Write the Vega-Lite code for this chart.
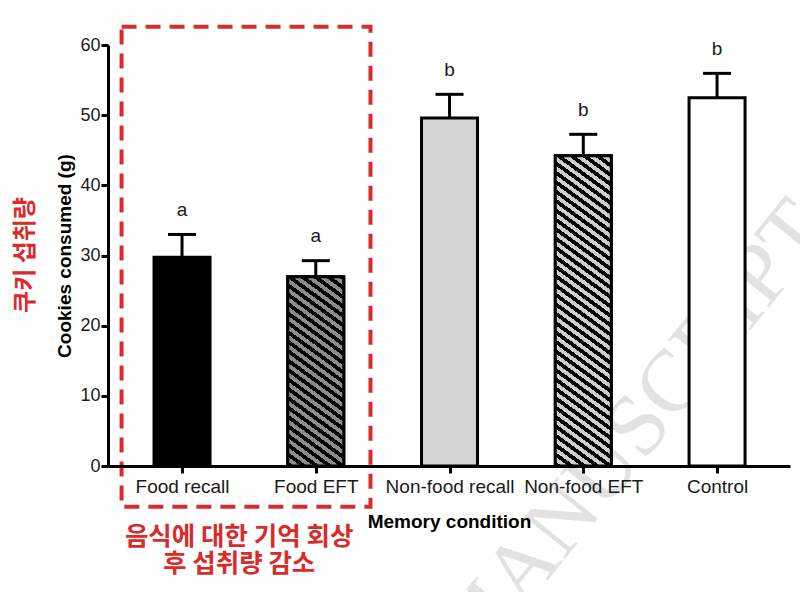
{
  "$schema": "https://vega.github.io/schema/vega-lite/v6.json",
  "width": 682,
  "height": 421,
  "autosize": {"type": "none"},
  "padding": {"left": 108, "top": 45, "right": 10, "bottom": 126},
  "background": "white",
  "config": {
    "view": {"stroke": null},
    "font": "Liberation Sans",
    "axisX": {
      "labelExpr": "['', 'Food recall', 'Food EFT', 'Non-food recall', 'Non-food EFT', 'Control'][datum.value]",
      "titleFont": "Liberation Sans", "titleFontSize": 19, "titleFontWeight": "bold", "titleColor": "#000000", "titlePadding": 16,
      "labelFont": "Liberation Sans", "labelFontSize": 19, "labelColor": "#1a1a1a", "labelPadding": 4, "labelAngle": 0, "labelOverlap": false, "labelFlush": false,
      "tickSize": 7, "tickWidth": 3, "tickColor": "#000000",
      "domainColor": "#000000", "domainWidth": 3, "grid": false
    },
    "axisY": {
      "titleFont": "Liberation Sans", "titleFontSize": 19, "titleFontWeight": "bold", "titleColor": "#000000", "titlePadding": 5,
      "labelFont": "Liberation Sans", "labelFontSize": 18, "labelColor": "#1a1a1a", "labelPadding": 1, "labelFlush": false, "labelOverlap": false,
      "tickSize": 7, "tickWidth": 3, "tickColor": "#000000",
      "domainColor": "#000000", "domainWidth": 3, "grid": false
    }
  },
  "data": {
    "values": [
      {"condition": "Food recall", "idx": 1, "mean": 29.74, "upper": 33.0, "letter": "a"},
      {"condition": "Food EFT", "idx": 2, "mean": 26.98, "upper": 29.26, "letter": "a"},
      {"condition": "Non-food recall", "idx": 3, "mean": 49.6, "upper": 52.97, "letter": "b"},
      {"condition": "Non-food EFT", "idx": 4, "mean": 44.22, "upper": 47.27, "letter": "b"},
      {"condition": "Control", "idx": 5, "mean": 52.49, "upper": 55.96, "letter": "b"}
    ]
  },
  "layer": [
    {
      "data": {"values": [{}]},
      "mark": {"type": "text", "text": "MANUSCRIPT", "font": "Liberation Serif", "fontSize": 88, "angle": -51, "color": "#e2e2e2", "align": "center", "baseline": "alphabetic"},
      "encoding": {
        "x": {"datum": 4.52, "type": "quantitative", "scale": {"domain": [0.484, 5.508], "nice": false, "zero": false}, "title": "Memory condition", "axis": {"values": [1, 2, 3, 4, 5], "zindex": 1}},
        "y": {"datum": 2.2, "type": "quantitative", "scale": {"domain": [0, 60], "nice": false, "zero": false}, "title": "Cookies consumed (g)", "axis": {"values": [0, 10, 20, 30, 40, 50, 60], "zindex": 1}}
      }
    },
    {
      "mark": {"type": "bar", "orient": "vertical", "width": 56, "stroke": "#000000", "strokeWidth": 3},
      "encoding": {
        "x": {"field": "idx", "type": "quantitative", "scale": {"domain": [0.484, 5.508], "nice": false, "zero": false}, "title": "Memory condition", "axis": {"values": [1, 2, 3, 4, 5], "zindex": 1}},
        "y": {"field": "mean", "type": "quantitative", "scale": {"domain": [0, 60], "nice": false, "zero": false}, "title": "Cookies consumed (g)", "axis": {"values": [0, 10, 20, 30, 40, 50, 60], "zindex": 1}},
        "fill": {
          "condition": [
            {"test": "datum.condition === 'Food recall'", "value": "#000000"},
            {"test": "datum.condition === 'Non-food recall'", "value": "#d4d4d4"}
          ],
          "value": "#ffffff"
        }
      }
    },
    {
      "transform": [{"filter": "datum.condition === 'Food EFT'"}],
      "mark": {
        "type": "bar", "orient": "vertical", "width": 56, "stroke": "#000000", "strokeWidth": 3,
        "fill": {
          "gradient": "linear", "x1": 0, "y1": 1, "x2": 0.5103, "y2": -1.3732,
          "stops": [
            {"offset": 0, "color": "#000"},
            {"offset": 0.01, "color": "#000"}, {"offset": 0.01, "color": "#8c8c8c"},
            {"offset": 0.02, "color": "#8c8c8c"}, {"offset": 0.02, "color": "#000"},
            {"offset": 0.03, "color": "#000"}, {"offset": 0.03, "color": "#8c8c8c"},
            {"offset": 0.04, "color": "#8c8c8c"}, {"offset": 0.04, "color": "#000"},
            {"offset": 0.05, "color": "#000"}, {"offset": 0.05, "color": "#8c8c8c"},
            {"offset": 0.06, "color": "#8c8c8c"}, {"offset": 0.06, "color": "#000"},
            {"offset": 0.07, "color": "#000"}, {"offset": 0.07, "color": "#8c8c8c"},
            {"offset": 0.08, "color": "#8c8c8c"}, {"offset": 0.08, "color": "#000"},
            {"offset": 0.09, "color": "#000"}, {"offset": 0.09, "color": "#8c8c8c"},
            {"offset": 0.10, "color": "#8c8c8c"}, {"offset": 0.10, "color": "#000"},
            {"offset": 0.11, "color": "#000"}, {"offset": 0.11, "color": "#8c8c8c"},
            {"offset": 0.12, "color": "#8c8c8c"}, {"offset": 0.12, "color": "#000"},
            {"offset": 0.13, "color": "#000"}, {"offset": 0.13, "color": "#8c8c8c"},
            {"offset": 0.14, "color": "#8c8c8c"}, {"offset": 0.14, "color": "#000"},
            {"offset": 0.15, "color": "#000"}, {"offset": 0.15, "color": "#8c8c8c"},
            {"offset": 0.16, "color": "#8c8c8c"}, {"offset": 0.16, "color": "#000"},
            {"offset": 0.17, "color": "#000"}, {"offset": 0.17, "color": "#8c8c8c"},
            {"offset": 0.18, "color": "#8c8c8c"}, {"offset": 0.18, "color": "#000"},
            {"offset": 0.19, "color": "#000"}, {"offset": 0.19, "color": "#8c8c8c"},
            {"offset": 0.20, "color": "#8c8c8c"}, {"offset": 0.20, "color": "#000"},
            {"offset": 0.21, "color": "#000"}, {"offset": 0.21, "color": "#8c8c8c"},
            {"offset": 0.22, "color": "#8c8c8c"}, {"offset": 0.22, "color": "#000"},
            {"offset": 0.23, "color": "#000"}, {"offset": 0.23, "color": "#8c8c8c"},
            {"offset": 0.24, "color": "#8c8c8c"}, {"offset": 0.24, "color": "#000"},
            {"offset": 0.25, "color": "#000"}, {"offset": 0.25, "color": "#8c8c8c"},
            {"offset": 0.26, "color": "#8c8c8c"}, {"offset": 0.26, "color": "#000"},
            {"offset": 0.27, "color": "#000"}, {"offset": 0.27, "color": "#8c8c8c"},
            {"offset": 0.28, "color": "#8c8c8c"}, {"offset": 0.28, "color": "#000"},
            {"offset": 0.29, "color": "#000"}, {"offset": 0.29, "color": "#8c8c8c"},
            {"offset": 0.30, "color": "#8c8c8c"}, {"offset": 0.30, "color": "#000"},
            {"offset": 0.31, "color": "#000"}, {"offset": 0.31, "color": "#8c8c8c"},
            {"offset": 0.32, "color": "#8c8c8c"}, {"offset": 0.32, "color": "#000"},
            {"offset": 0.33, "color": "#000"}, {"offset": 0.33, "color": "#8c8c8c"},
            {"offset": 0.34, "color": "#8c8c8c"}, {"offset": 0.34, "color": "#000"},
            {"offset": 0.35, "color": "#000"}, {"offset": 0.35, "color": "#8c8c8c"},
            {"offset": 0.36, "color": "#8c8c8c"}, {"offset": 0.36, "color": "#000"},
            {"offset": 0.37, "color": "#000"}, {"offset": 0.37, "color": "#8c8c8c"},
            {"offset": 0.38, "color": "#8c8c8c"}, {"offset": 0.38, "color": "#000"},
            {"offset": 0.39, "color": "#000"}, {"offset": 0.39, "color": "#8c8c8c"},
            {"offset": 0.40, "color": "#8c8c8c"}, {"offset": 0.40, "color": "#000"},
            {"offset": 0.41, "color": "#000"}, {"offset": 0.41, "color": "#8c8c8c"},
            {"offset": 0.42, "color": "#8c8c8c"}, {"offset": 0.42, "color": "#000"},
            {"offset": 0.43, "color": "#000"}, {"offset": 0.43, "color": "#8c8c8c"},
            {"offset": 0.44, "color": "#8c8c8c"}, {"offset": 0.44, "color": "#000"},
            {"offset": 0.45, "color": "#000"}, {"offset": 0.45, "color": "#8c8c8c"},
            {"offset": 0.46, "color": "#8c8c8c"}, {"offset": 0.46, "color": "#000"},
            {"offset": 0.47, "color": "#000"}, {"offset": 0.47, "color": "#8c8c8c"},
            {"offset": 0.48, "color": "#8c8c8c"}, {"offset": 0.48, "color": "#000"},
            {"offset": 0.49, "color": "#000"}, {"offset": 0.49, "color": "#8c8c8c"},
            {"offset": 0.50, "color": "#8c8c8c"}, {"offset": 0.50, "color": "#000"},
            {"offset": 0.51, "color": "#000"}
          ]
        }
      },
      "encoding": {
        "x": {"field": "idx", "type": "quantitative", "scale": {"domain": [0.484, 5.508], "nice": false, "zero": false}, "title": "Memory condition", "axis": {"values": [1, 2, 3, 4, 5], "zindex": 1}},
        "y": {"field": "mean", "type": "quantitative", "scale": {"domain": [0, 60], "nice": false, "zero": false}, "title": "Cookies consumed (g)", "axis": {"values": [0, 10, 20, 30, 40, 50, 60], "zindex": 1}}
      }
    },
    {
      "transform": [{"filter": "datum.condition === 'Non-food EFT'"}],
      "mark": {
        "type": "bar", "orient": "vertical", "width": 56, "stroke": "#000000", "strokeWidth": 3,
        "fill": {
          "gradient": "linear", "x1": 0, "y1": 1, "x2": 0.1953, "y2": -0.489,
          "stops": [
            {"offset": 0, "color": "#000"},
            {"offset": 0.01, "color": "#000"}, {"offset": 0.01, "color": "#cdcdcd"},
            {"offset": 0.02, "color": "#cdcdcd"}, {"offset": 0.02, "color": "#000"},
            {"offset": 0.03, "color": "#000"}, {"offset": 0.03, "color": "#cdcdcd"},
            {"offset": 0.04, "color": "#cdcdcd"}, {"offset": 0.04, "color": "#000"},
            {"offset": 0.05, "color": "#000"}, {"offset": 0.05, "color": "#cdcdcd"},
            {"offset": 0.06, "color": "#cdcdcd"}, {"offset": 0.06, "color": "#000"},
            {"offset": 0.07, "color": "#000"}, {"offset": 0.07, "color": "#cdcdcd"},
            {"offset": 0.08, "color": "#cdcdcd"}, {"offset": 0.08, "color": "#000"},
            {"offset": 0.09, "color": "#000"}, {"offset": 0.09, "color": "#cdcdcd"},
            {"offset": 0.10, "color": "#cdcdcd"}, {"offset": 0.10, "color": "#000"},
            {"offset": 0.11, "color": "#000"}, {"offset": 0.11, "color": "#cdcdcd"},
            {"offset": 0.12, "color": "#cdcdcd"}, {"offset": 0.12, "color": "#000"},
            {"offset": 0.13, "color": "#000"}, {"offset": 0.13, "color": "#cdcdcd"},
            {"offset": 0.14, "color": "#cdcdcd"}, {"offset": 0.14, "color": "#000"},
            {"offset": 0.15, "color": "#000"}, {"offset": 0.15, "color": "#cdcdcd"},
            {"offset": 0.16, "color": "#cdcdcd"}, {"offset": 0.16, "color": "#000"},
            {"offset": 0.17, "color": "#000"}, {"offset": 0.17, "color": "#cdcdcd"},
            {"offset": 0.18, "color": "#cdcdcd"}, {"offset": 0.18, "color": "#000"},
            {"offset": 0.19, "color": "#000"}, {"offset": 0.19, "color": "#cdcdcd"},
            {"offset": 0.20, "color": "#cdcdcd"}, {"offset": 0.20, "color": "#000"},
            {"offset": 0.21, "color": "#000"}, {"offset": 0.21, "color": "#cdcdcd"},
            {"offset": 0.22, "color": "#cdcdcd"}, {"offset": 0.22, "color": "#000"},
            {"offset": 0.23, "color": "#000"}, {"offset": 0.23, "color": "#cdcdcd"},
            {"offset": 0.24, "color": "#cdcdcd"}, {"offset": 0.24, "color": "#000"},
            {"offset": 0.25, "color": "#000"}, {"offset": 0.25, "color": "#cdcdcd"},
            {"offset": 0.26, "color": "#cdcdcd"}, {"offset": 0.26, "color": "#000"},
            {"offset": 0.27, "color": "#000"}, {"offset": 0.27, "color": "#cdcdcd"},
            {"offset": 0.28, "color": "#cdcdcd"}, {"offset": 0.28, "color": "#000"},
            {"offset": 0.29, "color": "#000"}, {"offset": 0.29, "color": "#cdcdcd"},
            {"offset": 0.30, "color": "#cdcdcd"}, {"offset": 0.30, "color": "#000"},
            {"offset": 0.31, "color": "#000"}, {"offset": 0.31, "color": "#cdcdcd"},
            {"offset": 0.32, "color": "#cdcdcd"}, {"offset": 0.32, "color": "#000"},
            {"offset": 0.33, "color": "#000"}, {"offset": 0.33, "color": "#cdcdcd"},
            {"offset": 0.34, "color": "#cdcdcd"}, {"offset": 0.34, "color": "#000"},
            {"offset": 0.35, "color": "#000"}, {"offset": 0.35, "color": "#cdcdcd"},
            {"offset": 0.36, "color": "#cdcdcd"}, {"offset": 0.36, "color": "#000"},
            {"offset": 0.37, "color": "#000"}, {"offset": 0.37, "color": "#cdcdcd"},
            {"offset": 0.38, "color": "#cdcdcd"}, {"offset": 0.38, "color": "#000"},
            {"offset": 0.39, "color": "#000"}, {"offset": 0.39, "color": "#cdcdcd"},
            {"offset": 0.40, "color": "#cdcdcd"}, {"offset": 0.40, "color": "#000"},
            {"offset": 0.41, "color": "#000"}, {"offset": 0.41, "color": "#cdcdcd"},
            {"offset": 0.42, "color": "#cdcdcd"}, {"offset": 0.42, "color": "#000"},
            {"offset": 0.43, "color": "#000"}, {"offset": 0.43, "color": "#cdcdcd"},
            {"offset": 0.44, "color": "#cdcdcd"}, {"offset": 0.44, "color": "#000"},
            {"offset": 0.45, "color": "#000"}, {"offset": 0.45, "color": "#cdcdcd"},
            {"offset": 0.46, "color": "#cdcdcd"}, {"offset": 0.46, "color": "#000"},
            {"offset": 0.47, "color": "#000"}, {"offset": 0.47, "color": "#cdcdcd"},
            {"offset": 0.48, "color": "#cdcdcd"}, {"offset": 0.48, "color": "#000"},
            {"offset": 0.49, "color": "#000"}, {"offset": 0.49, "color": "#cdcdcd"},
            {"offset": 0.50, "color": "#cdcdcd"}, {"offset": 0.50, "color": "#000"},
            {"offset": 0.51, "color": "#000"}, {"offset": 0.51, "color": "#cdcdcd"},
            {"offset": 0.52, "color": "#cdcdcd"}, {"offset": 0.52, "color": "#000"},
            {"offset": 0.53, "color": "#000"}, {"offset": 0.53, "color": "#cdcdcd"},
            {"offset": 0.54, "color": "#cdcdcd"}, {"offset": 0.54, "color": "#000"},
            {"offset": 0.55, "color": "#000"}, {"offset": 0.55, "color": "#cdcdcd"},
            {"offset": 0.56, "color": "#cdcdcd"}, {"offset": 0.56, "color": "#000"},
            {"offset": 0.57, "color": "#000"}, {"offset": 0.57, "color": "#cdcdcd"},
            {"offset": 0.58, "color": "#cdcdcd"}, {"offset": 0.58, "color": "#000"},
            {"offset": 0.59, "color": "#000"}, {"offset": 0.59, "color": "#cdcdcd"},
            {"offset": 0.60, "color": "#cdcdcd"}, {"offset": 0.60, "color": "#000"},
            {"offset": 0.61, "color": "#000"}, {"offset": 0.61, "color": "#cdcdcd"},
            {"offset": 0.62, "color": "#cdcdcd"}, {"offset": 0.62, "color": "#000"},
            {"offset": 0.63, "color": "#000"}, {"offset": 0.63, "color": "#cdcdcd"},
            {"offset": 0.64, "color": "#cdcdcd"}, {"offset": 0.64, "color": "#000"},
            {"offset": 0.65, "color": "#000"}, {"offset": 0.65, "color": "#cdcdcd"},
            {"offset": 0.66, "color": "#cdcdcd"}, {"offset": 0.66, "color": "#000"},
            {"offset": 0.67, "color": "#000"}, {"offset": 0.67, "color": "#cdcdcd"},
            {"offset": 0.68, "color": "#cdcdcd"}, {"offset": 0.68, "color": "#000"},
            {"offset": 0.69, "color": "#000"}, {"offset": 0.69, "color": "#cdcdcd"},
            {"offset": 0.70, "color": "#cdcdcd"}, {"offset": 0.70, "color": "#000"},
            {"offset": 0.71, "color": "#000"}, {"offset": 0.71, "color": "#cdcdcd"},
            {"offset": 0.72, "color": "#cdcdcd"}, {"offset": 0.72, "color": "#000"},
            {"offset": 0.73, "color": "#000"}, {"offset": 0.73, "color": "#cdcdcd"},
            {"offset": 0.74, "color": "#cdcdcd"}, {"offset": 0.74, "color": "#000"},
            {"offset": 0.75, "color": "#000"}, {"offset": 0.75, "color": "#cdcdcd"},
            {"offset": 0.76, "color": "#cdcdcd"}, {"offset": 0.76, "color": "#000"},
            {"offset": 0.77, "color": "#000"}
          ]
        }
      },
      "encoding": {
        "x": {"field": "idx", "type": "quantitative", "scale": {"domain": [0.484, 5.508], "nice": false, "zero": false}, "title": "Memory condition", "axis": {"values": [1, 2, 3, 4, 5], "zindex": 1}},
        "y": {"field": "mean", "type": "quantitative", "scale": {"domain": [0, 60], "nice": false, "zero": false}, "title": "Cookies consumed (g)", "axis": {"values": [0, 10, 20, 30, 40, 50, 60], "zindex": 1}}
      }
    },
    {
      "mark": {"type": "rule", "strokeWidth": 3, "color": "#000000"},
      "encoding": {
        "x": {"field": "idx", "type": "quantitative", "scale": {"domain": [0.484, 5.508], "nice": false, "zero": false}, "title": "Memory condition", "axis": {"values": [1, 2, 3, 4, 5], "zindex": 1}},
        "y": {"field": "mean", "type": "quantitative", "scale": {"domain": [0, 60], "nice": false, "zero": false}, "title": "Cookies consumed (g)", "axis": {"values": [0, 10, 20, 30, 40, 50, 60], "zindex": 1}},
        "y2": {"field": "upper"}
      }
    },
    {
      "mark": {"type": "rule", "strokeWidth": 3, "color": "#000000", "xOffset": -14, "x2Offset": 14},
      "encoding": {
        "x": {"field": "idx", "type": "quantitative", "scale": {"domain": [0.484, 5.508], "nice": false, "zero": false}, "title": "Memory condition", "axis": {"values": [1, 2, 3, 4, 5], "zindex": 1}},
        "x2": {"field": "idx"},
        "y": {"field": "upper", "type": "quantitative", "scale": {"domain": [0, 60], "nice": false, "zero": false}, "title": "Cookies consumed (g)", "axis": {"values": [0, 10, 20, 30, 40, 50, 60], "zindex": 1}}
      }
    },
    {
      "mark": {"type": "text", "font": "Liberation Sans", "fontSize": 19, "dy": -18.5, "baseline": "alphabetic", "align": "center", "color": "#1a1a1a"},
      "encoding": {
        "x": {"field": "idx", "type": "quantitative", "scale": {"domain": [0.484, 5.508], "nice": false, "zero": false}, "title": "Memory condition", "axis": {"values": [1, 2, 3, 4, 5], "zindex": 1}},
        "y": {"field": "upper", "type": "quantitative", "scale": {"domain": [0, 60], "nice": false, "zero": false}, "title": "Cookies consumed (g)", "axis": {"values": [0, 10, 20, 30, 40, 50, 60], "zindex": 1}},
        "text": {"field": "letter"}
      }
    },
    {
      "data": {"values": [{}]},
      "mark": {"type": "rect", "fill": "transparent", "stroke": "#d92b2b", "strokeWidth": 4, "strokeDash": [15, 9]},
      "encoding": {
        "x": {"datum": 0.548, "type": "quantitative", "scale": {"domain": [0.484, 5.508], "nice": false, "zero": false}, "title": "Memory condition", "axis": {"values": [1, 2, 3, 4, 5], "zindex": 1}},
        "x2": {"datum": 2.409},
        "y": {"datum": 62.6, "type": "quantitative", "scale": {"domain": [0, 60], "nice": false, "zero": false}, "title": "Cookies consumed (g)", "axis": {"values": [0, 10, 20, 30, 40, 50, 60], "zindex": 1}},
        "y2": {"datum": -5.8}
      }
    },
    {
      "data": {"values": [{}]},
      "mark": {"type": "text", "text": "쿠키 섭취량", "font": "Noto Sans CJK KR", "fontWeight": "bold", "fontSize": 24, "angle": 270, "color": "#d92b2b", "align": "center", "baseline": "middle"},
      "encoding": {
        "x": {"datum": -0.17, "type": "quantitative", "scale": {"domain": [0.484, 5.508], "nice": false, "zero": false}, "title": "Memory condition", "axis": {"values": [1, 2, 3, 4, 5], "zindex": 1}},
        "y": {"datum": 30.07, "type": "quantitative", "scale": {"domain": [0, 60], "nice": false, "zero": false}, "title": "Cookies consumed (g)", "axis": {"values": [0, 10, 20, 30, 40, 50, 60], "zindex": 1}}
      }
    },
    {
      "data": {"values": [{}]},
      "mark": {"type": "text", "text": "음식에 대한 기억 회상", "font": "Noto Sans CJK KR", "fontWeight": "bold", "fontSize": 25.5, "color": "#d92b2b", "align": "center", "baseline": "middle"},
      "encoding": {
        "x": {"datum": 1.427, "type": "quantitative", "scale": {"domain": [0.484, 5.508], "nice": false, "zero": false}, "title": "Memory condition", "axis": {"values": [1, 2, 3, 4, 5], "zindex": 1}},
        "y": {"datum": -10.1, "type": "quantitative", "scale": {"domain": [0, 60], "nice": false, "zero": false}, "title": "Cookies consumed (g)", "axis": {"values": [0, 10, 20, 30, 40, 50, 60], "zindex": 1}}
      }
    },
    {
      "data": {"values": [{}]},
      "mark": {"type": "text", "text": "후 섭취량 감소", "font": "Noto Sans CJK KR", "fontWeight": "bold", "fontSize": 25.5, "color": "#d92b2b", "align": "center", "baseline": "middle"},
      "encoding": {
        "x": {"datum": 1.427, "type": "quantitative", "scale": {"domain": [0.484, 5.508], "nice": false, "zero": false}, "title": "Memory condition", "axis": {"values": [1, 2, 3, 4, 5], "zindex": 1}},
        "y": {"datum": -13.95, "type": "quantitative", "scale": {"domain": [0, 60], "nice": false, "zero": false}, "title": "Cookies consumed (g)", "axis": {"values": [0, 10, 20, 30, 40, 50, 60], "zindex": 1}}
      }
    }
  ]
}
